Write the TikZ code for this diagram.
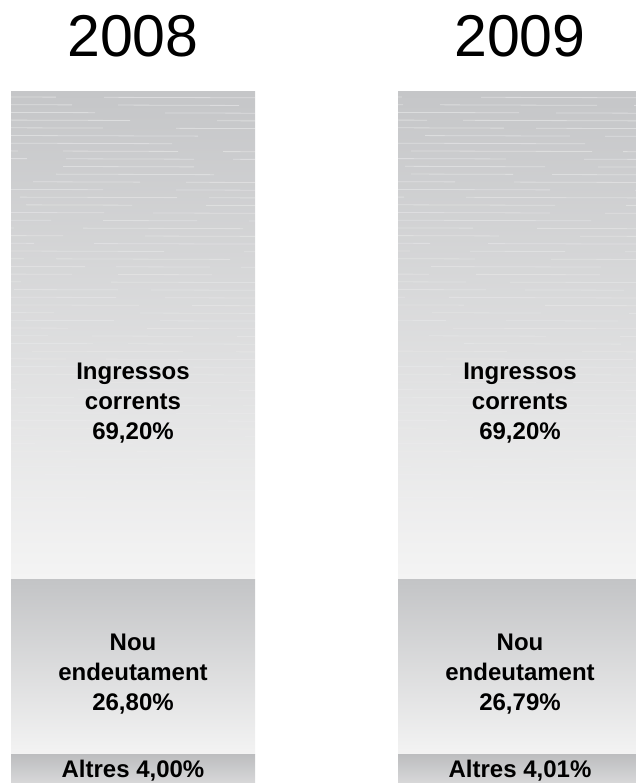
\documentclass[tikz,border=0pt]{standalone}
\usepackage{fontspec}
\setmainfont{Liberation Sans}
\definecolor{inTop}{HTML}{C5C6C8}
\definecolor{inBot}{HTML}{F4F4F4}
\definecolor{nuTop}{HTML}{C3C4C6}
\definecolor{nuBot}{HTML}{F3F3F3}
\definecolor{alTop}{HTML}{BCBDBF}
\definecolor{alBot}{HTML}{E2E2E3}
\tikzset{
  yeartitle/.style={font=\fontsize{59}{62}\selectfont, text=black, inner sep=0pt},
  seglabel/.style={font=\bfseries\fontsize{24}{30}\selectfont, align=center, text=black, inner sep=0pt},
  streak/.style={white, line width=0.8pt},
}
\begin{document}
\begin{tikzpicture}[x=1pt,y=-1pt]
\useasboundingbox (0,0) rectangle (636,783);
\begin{scope}
\clip (0,0) rectangle (636,783);
\pgfmathsetseed{7}
\foreach \bx in {11,398} {
  \shade[top color=inTop, bottom color=inBot] (\bx,92) rectangle ++(244,487);
  \begin{scope}
    \clip (\bx,92) rectangle ++(244,487);
    \foreach \r in {0,...,60} {
      \pgfmathsetmacro\yy{97+7.7*\r}
      \pgfmathsetmacro\op{0.4*(1-\r/61)}
      \pgfmathsetmacro\ph{random(200)}
      \pgfmathsetmacro\da{90+random(120)}
      \pgfmathsetmacro\db{30+random(60)}
      \draw[streak, opacity=\op, dash pattern=on \da pt off \db pt, dash phase=\ph pt] (\bx,\yy) -- ++(244,0.8);
    }
  \end{scope}
  \shade[top color=nuTop, bottom color=nuBot] (\bx,579) rectangle ++(244,175);
  \shade[top color=alTop, bottom color=alBot] (\bx,754) rectangle ++(244,40);
}
\end{scope}
\node[yeartitle] (y08) at (133,36) {2008};
\node[yeartitle] (y09) at (520,36) {2009};
\node[seglabel] (ing08) at (133,403) {Ingressos\\corrents\\69,20\%};
\node[seglabel] (ing09) at (520,403) {Ingressos\\corrents\\69,20\%};
\node[seglabel] (nou08) at (133,674) {Nou\\endeutament\\26,80\%};
\node[seglabel] (nou09) at (520,674) {Nou\\endeutament\\26,79\%};
\node[seglabel] (alt08) at (133,770.5) {Altres 4,00\%};
\node[seglabel] (alt09) at (520,770.5) {Altres 4,01\%};
\end{tikzpicture}
\end{document}
